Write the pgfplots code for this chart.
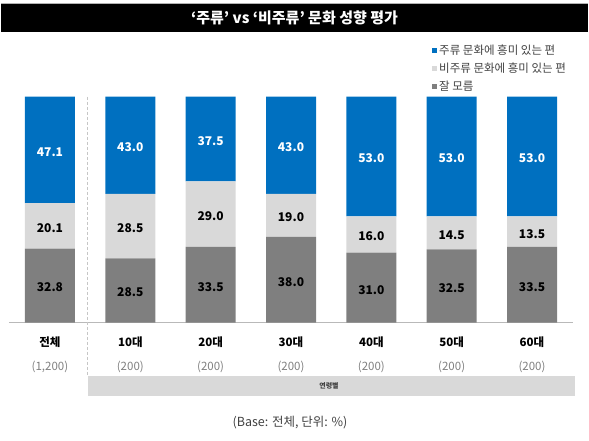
\documentclass[border=0pt]{standalone}
\usepackage{pgfplots}
\pgfplotsset{compat=1.18}
\usepackage{pgfplotstable}
\usepackage{fontspec}
\setmainfont{Noto Sans CJK KR}

\definecolor{cblue}{HTML}{0070C0}
\definecolor{clight}{HTML}{D9D9D9}
\definecolor{cdark}{HTML}{7F7F7F}
\definecolor{ctext}{HTML}{404040}

% x: 0 = total, 1..6 = age groups
\pgfplotstableread{
x  main nonmain dunno
0  47.1 20.1    32.8
1  43.0 28.5    28.5
2  37.5 29.0    33.5
3  43.0 19.0    38.0
4  53.0 16.0    31.0
5  53.0 14.5    32.5
6  53.0 13.5    33.5
}\datatable

\begin{document}
\begin{tikzpicture}
\path[use as bounding box] (0,0) rectangle (589pt,440pt);
% title bar
\fill[black] (1pt,408pt) rectangle (588pt,437pt);
\draw[gray!60,line width=0.8pt] (1pt,437pt) -- (588pt,437pt);
\node[text=white,font=\bfseries\fontsize{15}{18}\selectfont] at (294.5pt,422pt) {‘주류’ vs ‘비주류’ 문화 성향 평가};

% age group band
\fill[clight] (87.7pt,44pt) rectangle (575pt,64pt);
\node[font=\bfseries\fontsize{7}{8}\selectfont, text=ctext] at (329pt,54pt) {연령별};

\begin{axis}[
    at={(9pt,117.3pt)}, anchor=south west,
    scale only axis, width=564pt, height=226pt,
    xmin=-0.51, xmax=6.51, ymin=0, ymax=100,
    ybar stacked, bar width=50pt,
    axis y line=none, axis x line*=bottom,
    x axis line style={color=gray!55, line width=0.8pt},
    xtick={0,...,6}, major tick length=0pt,
    xticklabels={
        {\textbf{전체}\\[11pt]\textcolor{cdark}{(1,200)}},
        {\textbf{10대}\\[11pt]\textcolor{cdark}{(200)}},
        {\textbf{20대}\\[11pt]\textcolor{cdark}{(200)}},
        {\textbf{30대}\\[11pt]\textcolor{cdark}{(200)}},
        {\textbf{40대}\\[11pt]\textcolor{cdark}{(200)}},
        {\textbf{50대}\\[11pt]\textcolor{cdark}{(200)}},
        {\textbf{60대}\\[11pt]\textcolor{cdark}{(200)}}},
    xticklabel style={align=center, anchor=north, yshift=-11pt,
        font=\fontsize{11.5}{13}\selectfont},
    clip=false,
    nodes near coords, point meta=explicit symbolic,
    nodes near coords align=center,
    every node near coord/.append style={anchor=center, yshift=-2pt,
        font=\bfseries\fontsize{12}{14}\selectfont},
    legend style={at={(0.75,1.238)}, anchor=north west, draw=none, fill=none,
        font=\fontsize{11.5}{13}\selectfont, text=ctext, inner sep=0pt,
        row sep=3pt, legend cell align=left},
    legend image code/.code={\fill[#1] (1pt,-2.5pt) rectangle (6pt,2.5pt);},
    reverse legend,
]
\addplot[fill=cdark, draw=none, every node near coord/.append style={text=black}]
    table[x=x, y=dunno, meta=dunno] {\datatable};
\addplot[fill=clight, draw=none, every node near coord/.append style={text=black}]
    table[x=x, y=nonmain, meta=nonmain] {\datatable};
\addplot[fill=cblue, draw=none, every node near coord/.append style={text=white}]
    table[x=x, y=main, meta=main] {\datatable};
\legend{잘 모름, 비주류 문화에 흥미 있는 편, 주류 문화에 흥미 있는 편}

% divider between total and age groups
\draw[densely dashed, color=gray!45] (axis cs:0.467,100) -- (axis cs:0.467,-23.1);
\end{axis}

\node[text=ctext, font=\fontsize{12.5}{14}\selectfont] at (290pt,17pt) {(Base: 전체, 단위: \%)};
\end{tikzpicture}
\end{document}
